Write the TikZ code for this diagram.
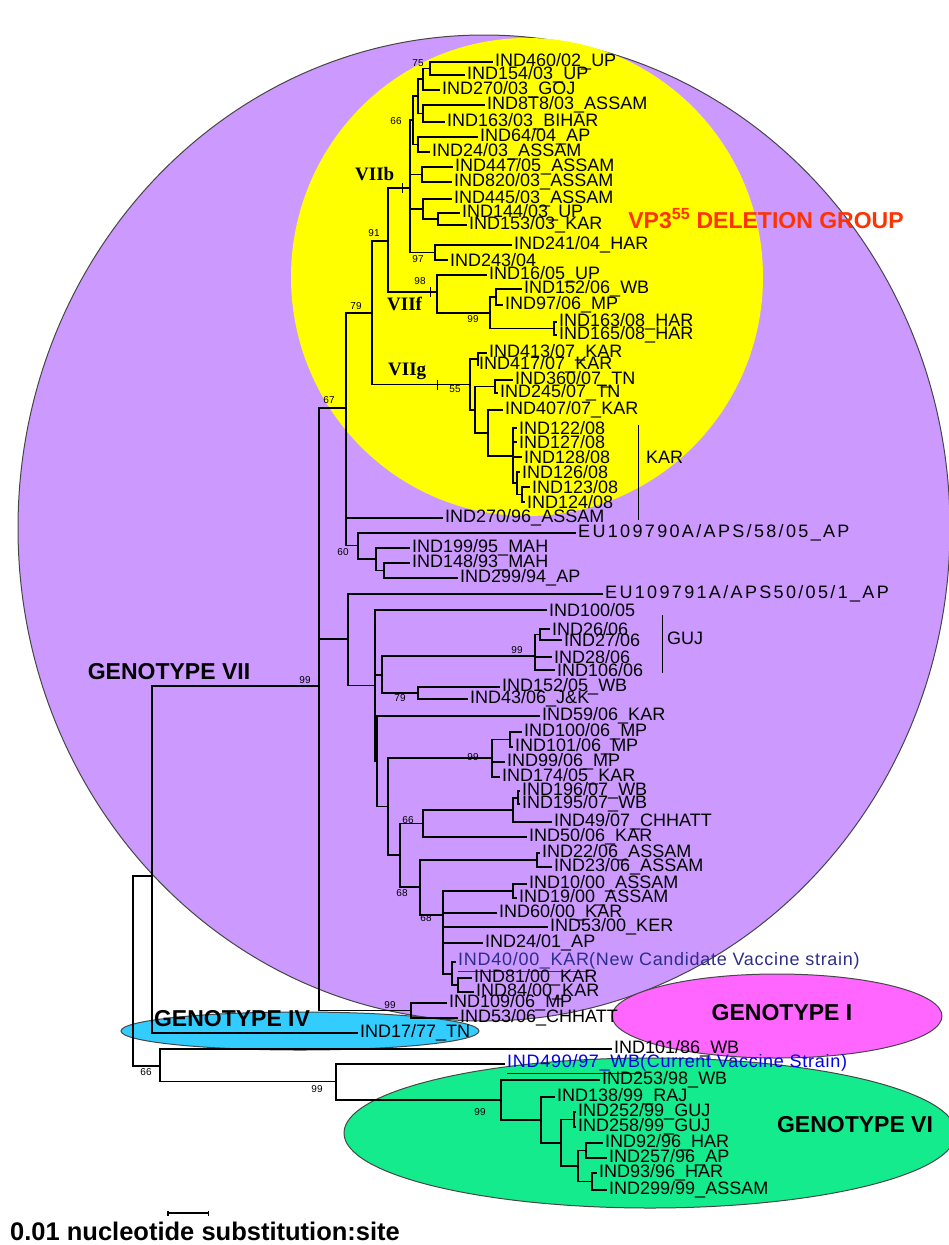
\documentclass[tikz,border=0pt]{standalone}
\usepackage{fontspec}
\setmainfont{Liberation Sans}
\newfontfamily\serifface{Liberation Serif}
\usetikzlibrary{arrows.meta}

\definecolor{genoVII}{RGB}{204,153,255}
\definecolor{delyellow}{RGB}{255,255,0}
\definecolor{genoIV}{RGB}{51,204,255}
\definecolor{genoI}{RGB}{255,102,255}
\definecolor{genoVI}{RGB}{20,235,140}
\definecolor{delred}{RGB}{255,51,0}
\definecolor{newvac}{RGB}{45,45,140}
\definecolor{curvac}{RGB}{0,0,235}
\definecolor{rim}{RGB}{70,70,70}

\newcommand\leaffont{\fontsize{18}{18}\selectfont}
\newcommand\bootfont{\fontsize{10}{10}\selectfont}
\newcommand\genofont{\bfseries\fontsize{23}{23}\selectfont}
\newcommand\cladefont{\serifface\bfseries\fontsize{19}{19}\selectfont}
\newcommand\delfont{\bfseries\fontsize{23}{23}\selectfont}
\newcommand\barfont{\bfseries\fontsize{25.5}{25.5}\selectfont}

\begin{document}
\begin{tikzpicture}[x=1pt, y=-1pt,
  branch/.style={line width=1.5pt},
  leaf/.style={anchor=west, inner sep=2pt, font=\leaffont},
  wideleaf/.style={leaf, font=\leaffont\addfontfeature{LetterSpace=13}},
  vacleaf/.style={leaf, font=\leaffont\addfontfeature{LetterSpace=4}},
  boot/.style={inner sep=0pt, font=\bootfont},
  geno/.style={inner sep=0pt, font=\genofont},
  clade/.style={anchor=base west, inner sep=0pt, font=\cladefont},
  zone/.style={draw=rim, line width=1pt}]
\useasboundingbox (0,0) rectangle (949,1245);

% zones
\filldraw[zone, fill=genoVII] (484,528) ellipse [x radius=466, y radius=493];
\fill[delyellow] (527,277) ellipse [x radius=236, y radius=239];
\filldraw[zone, fill=genoIV] (300,1031) ellipse [x radius=179, y radius=19];
\filldraw[zone, fill=genoI] (777,1016) ellipse [x radius=165, y radius=42];
\filldraw[zone, fill=genoVI] (650,1133) ellipse [x radius=306, y radius=75];

\node[geno] (gVII) at (169,672) {GENOTYPE VII};
\node[geno] (gIV) at (232,1019) {GENOTYPE IV};
\node[geno] (gI) at (782,1013) {GENOTYPE I};
\node[geno] (gVI) at (855,1125) {GENOTYPE VI};
\node[font=\delfont, text=delred] (vp) at (766,219) {VP3\textsuperscript{55} DELETION GROUP};

% VIIb
\node[leaf] (l460) at (493,62) {IND460/02\_UP};
\node[leaf] (l154) at (465,75) {IND154/03\_UP};
\node[leaf] (l270) at (440,90) {IND270/03\_GOJ};
\node[leaf] (l878) at (485,105) {IND8T8/03\_ASSAM};
\node[leaf] (l163) at (445,122) {IND163/03\_BIHAR};
\node[leaf] (l64) at (478,137) {IND64/04\_AP};
\node[leaf] (l24) at (430,152) {IND24/03\_ASSAM};
\node[leaf] (l447) at (453,167) {IND447/05\_ASSAM};
\node[leaf] (l820) at (452,182) {IND820/03\_ASSAM};
\node[leaf] (l445) at (452,199) {IND445/03\_ASSAM};
\node[leaf] (l144) at (460,213) {IND144/03\_UP};
\node[leaf] (l153) at (467,225) {IND153/03\_KAR};
\node[leaf] (l241) at (512,245) {IND241/04\_HAR};
\node[leaf] (l243) at (448,260) {IND243/04};
% VIIf
\node[leaf] (l16) at (487,275) {IND16/05\_UP};
\node[leaf] (l152b) at (522,289) {IND152/06\_WB};
\node[leaf] (l97) at (503,305) {IND97/06\_MP};
\node[leaf] (l163b) at (557,322) {IND163/08\_HAR};
\node[leaf] (l165) at (557,335) {IND165/08\_HAR};
% VIIg
\node[leaf] (l413) at (487,353) {IND413/07\_KAR};
\node[leaf] (l417) at (477,365) {IND417/07\_KAR};
\node[leaf] (l360) at (513,380) {IND360/07\_TN};
\node[leaf] (l245) at (498,393) {IND245/07\_TN};
\node[leaf] (l407) at (503,410) {IND407/07\_KAR};
\node[leaf] (l122) at (517,428) {IND122/08};
\node[leaf] (l127) at (517,442) {IND127/08};
\node[leaf] (l128) at (522,457) {IND128/08};
\node[leaf] (l126) at (520,472) {IND126/08};
\node[leaf] (l123) at (530,487) {IND123/08};
\node[leaf] (l124) at (525,502) {IND124/08};
\coordinate (kart) at (638,425);
\coordinate (karb) at (638,520);
\draw[line width=1pt] (kart) -- (karb);
\node[leaf] (kar) at (644,457) {KAR};

% rest of genotype VII
\node[leaf] (l270b) at (443,518) {IND270/96\_ASSAM};
\node[wideleaf] (leu0) at (576,533) {EU109790A/APS/58/05\_AP};
\node[leaf] (l199) at (410,548) {IND199/95\_MAH};
\node[leaf] (l148) at (410,563) {IND148/93\_MAH};
\node[leaf] (l299) at (458,578) {IND299/94\_AP};
\node[wideleaf] (leu1) at (603,594) {EU109791A/APS50/05/1\_AP};
\node[leaf] (l100a) at (547,610) {IND100/05};
\node[leaf] (l26) at (550,629) {IND26/06};
\node[leaf] (l27) at (562,640) {IND27/06};
\node[leaf] (l28) at (552,657) {IND28/06};
\node[leaf] (l106) at (555,670) {IND106/06};
\coordinate (gujt) at (662,615);
\coordinate (gujb) at (662,673);
\draw[line width=1pt] (gujt) -- (gujb);
\node[leaf] (guj) at (665,638) {GUJ};
\node[leaf] (l152c) at (500,687) {IND152/05\_WB};
\node[leaf] (l43) at (468,699) {IND43/06\_J\&K};
\node[leaf] (l59) at (540,716) {IND59/06\_KAR};
\node[leaf] (l100b) at (522,732) {IND100/06\_MP};
\node[leaf] (l101) at (513,747) {IND101/06\_MP};
\node[leaf] (l99) at (505,762) {IND99/06\_MP};
\node[leaf] (l174) at (500,777) {IND174/05\_KAR};
\node[leaf] (l196) at (520,791) {IND196/07\_WB};
\node[leaf] (l195) at (520,804) {IND195/07\_WB};
\node[leaf] (l49) at (552,822) {IND49/07\_CHHATT};
\node[leaf] (l50) at (527,837) {IND50/06\_KAR};
\node[leaf] (l22) at (540,853) {IND22/06\_ASSAM};
\node[leaf] (l23) at (552,867) {IND23/06\_ASSAM};
\node[leaf] (l10) at (527,884) {IND10/00\_ASSAM};
\node[leaf] (l19) at (517,898) {IND19/00\_ASSAM};
\node[leaf] (l60) at (497,913) {IND60/00\_KAR};
\node[leaf] (l53) at (548,927) {IND53/00\_KER};
\node[leaf] (l24b) at (483,943) {IND24/01\_AP};
\node[vacleaf, text=newvac] (l40) at (456,962) {\underline{IND40/00\_KAR}(New Candidate Vaccine strain)};
\node[leaf] (l81) at (472,978) {IND81/00\_KAR};
\node[leaf] (l84) at (474,992) {IND84/00\_KAR};
\node[leaf] (l109) at (447,1003) {IND109/06\_MP};
\node[leaf] (l53b) at (458,1018) {IND53/06\_CHHATT};

% genotypes IV, I, VI
\node[leaf] (l17) at (358,1033) {IND17/77\_TN};
\node[leaf] (l101b) at (612,1049) {IND101/86\_WB};
\node[vacleaf, text=curvac] (l490) at (505,1064) {\underline{IND490/97\_WB}(Current Vaccine Strain)};
\node[leaf] (l253) at (600,1080) {IND253/98\_WB};
\node[leaf] (l138) at (555,1097) {IND138/99\_RAJ};
\node[leaf] (l252) at (576,1112) {IND252/99\_GUJ};
\node[leaf] (l258) at (576,1127) {IND258/99\_GUJ};
\node[leaf] (l92) at (603,1143) {IND92/96\_HAR};
\node[leaf] (l257) at (607,1158) {IND257/96\_AP};
\node[leaf] (l93) at (597,1173) {IND93/96\_HAR};
\node[leaf] (l299b) at (607,1190) {IND299/99\_ASSAM};

% inner nodes
\coordinate (b75) at (430,68.5);
\coordinate (b270) at (423,79);
\coordinate (b878) at (423,113.5);
\coordinate (b66u) at (418,96);
\coordinate (b64) at (418,144.5);
\coordinate (b66) at (413,120);
\coordinate (b447) at (422,174.5);
\coordinate (b144) at (438,219);
\coordinate (b445) at (423,209);
\coordinate (b97) at (435,252.5);
\coordinate (vIIb) at (410,188);
\coordinate (f152) at (496,297);
\coordinate (f163) at (554,328.5);
\coordinate (f99) at (490,313);
\coordinate (vIIf) at (437,292);
\coordinate (b91) at (388,241);
\coordinate (g413) at (478,359);
\coordinate (g360) at (495,386.5);
\coordinate (k123) at (522,494.5);
\coordinate (k126) at (517,483);
\coordinate (k122) at (513,456);
\coordinate (g407) at (488,433);
\coordinate (g475) at (475,410);
\coordinate (vIIg) at (470,384.5);
\coordinate (b79) at (372,313);
\coordinate (m148) at (384,570.5);
\coordinate (m199) at (376,559);
\coordinate (b60) at (358,545.5);
\coordinate (b67) at (346,408);
\coordinate (j26) at (540,634.5);
\coordinate (b99g) at (535,656);
\coordinate (b79g) at (418,693);
\coordinate (h382) at (382,675);
\coordinate (j100) at (510,739.5);
\coordinate (b99h) at (492,758);
\coordinate (j196) at (518,798);
\coordinate (j49) at (513,810);
\coordinate (b66h) at (423,823.5);
\coordinate (j22) at (537,860);
\coordinate (j10) at (513,891);
\coordinate (j81) at (458,985);
\coordinate (j40) at (452,974);
\coordinate (b68b) at (443,915);
\coordinate (b68a) at (420,887);
\coordinate (h400) at (400,855);
\coordinate (h388) at (388,806.5);
\coordinate (h377) at (377,761);
\coordinate (h375) at (375,685.5);
\coordinate (h348) at (348,639);
\coordinate (b99z) at (411,1010.5);
\coordinate (g7) at (319,686);
\coordinate (n152) at (152,876);
\coordinate (e252) at (574,1119.5);
\coordinate (e92) at (586,1150.5);
\coordinate (e93) at (592,1181.5);
\coordinate (e578) at (578,1166);
\coordinate (e561) at (561,1143);
\coordinate (e541) at (541,1120);
\coordinate (g6b) at (501,1100);
\coordinate (g6) at (336,1081.5);
\coordinate (n160) at (160,1066);
\coordinate (root) at (133,970);

% branches
\draw[branch] (b75) |- (l460.west) (b75) |- (l154.west);
\draw[branch] (b270) |- (b75) (b270) |- (l270.west);
\draw[branch] (b878) |- (l878.west) (b878) |- (l163.west);
\draw[branch] (b66u) |- (b270) (b66u) |- (b878);
\draw[branch] (b64) |- (l64.west) (b64) |- (l24.west);
\draw[branch] (b66) |- (b66u) (b66) |- (b64);
\draw[branch] (b447) |- (l447.west) (b447) |- (l820.west);
\draw[branch] (b144) |- (l144.west) (b144) |- (l153.west);
\draw[branch] (b445) |- (l445.west) (b445) |- (b144);
\draw[branch] (b97) |- (l241.west) (b97) |- (l243.west);
\draw[branch] (vIIb) |- (b66) (vIIb) |- (b447) (vIIb) |- (b445) (vIIb) |- (b97);
\draw[branch] (f152) |- (l152b.west) (f152) |- (l97.west);
\draw[branch] (f163) |- (l163b.west) (f163) |- (l165.west);
\draw[branch] (f99) |- (f152) (f99) |- (f163);
\draw[branch] (vIIf) |- (l16.west) (vIIf) |- (f99);
\draw[branch] (b91) |- (vIIb) (b91) |- (vIIf);
\draw[branch] (g413) |- (l413.west) (g413) |- (l417.west);
\draw[branch] (g360) |- (l360.west) (g360) |- (l245.west);
\draw[branch] (k123) |- (l123.west) (k123) |- (l124.west);
\draw[branch] (k126) |- (l126.west) (k126) |- (k123);
\draw[branch] (k122) |- (l122.west) (k122) |- (l127.west) (k122) |- (l128.west) (k122) |- (k126);
\draw[branch] (g407) |- (l407.west) (g407) |- (k122);
\draw[branch] (g475) |- (g360) (g475) |- (g407);
\draw[branch] (vIIg) |- (g413) (vIIg) |- (g475);
\draw[branch] (b79) |- (b91) (b79) |- (vIIg);
\draw[branch] (m148) |- (l148.west) (m148) |- (l299.west);
\draw[branch] (m199) |- (l199.west) (m199) |- (m148);
\draw[branch] (b60) |- (leu0.west) (b60) |- (m199);
\draw[branch] (b67) |- (b79) (b67) |- (l270b.west) (b67) |- (b60);
\draw[branch] (j26) |- (l26.west) (j26) |- (l27.west);
\draw[branch] (b99g) |- (j26) (b99g) |- (l28.west) (b99g) |- (l106.west);
\draw[branch] (b79g) |- (l152c.west) (b79g) |- (l43.west);
\draw[branch] (h382) |- (b99g) (h382) |- (b79g);
\draw[branch] (j100) |- (l100b.west) (j100) |- (l101.west);
\draw[branch] (b99h) |- (j100) (b99h) |- (l99.west) (b99h) |- (l174.west);
\draw[branch] (j196) |- (l196.west) (j196) |- (l195.west);
\draw[branch] (j49) |- (j196) (j49) |- (l49.west);
\draw[branch] (b66h) |- (j49) (b66h) |- (l50.west);
\draw[branch] (j22) |- (l22.west) (j22) |- (l23.west);
\draw[branch] (j10) |- (l10.west) (j10) |- (l19.west);
\draw[branch] (j81) |- (l81.west) (j81) |- (l84.west);
\draw[branch] (j40) |- (l40.west) (j40) |- (j81);
\draw[branch] (b68b) |- (j10) (b68b) |- (l60.west) (b68b) |- (l53.west) (b68b) |- (l24b.west) (b68b) |- (j40);
\draw[branch] (b68a) |- (j22) (b68a) |- (b68b);
\draw[branch] (h400) |- (b66h) (h400) |- (b68a);
\draw[branch] (h388) |- (b99h) (h388) |- (h400);
\draw[branch] (h377) |- (l59.west) (h377) |- (h388);
\draw[branch] (h375) |- (l100a.west) (h375) |- (h382) (h375) |- (h377);
\draw[branch] (h348) |- (leu1.west) (h348) |- (h375);
\draw[branch] (b99z) |- (l109.west) (b99z) |- (l53b.west);
\draw[branch] (g7) |- (b67) (g7) |- (h348) (g7) |- (b99z);
\draw[branch] (n152) |- (g7) (n152) |- (l17.west);
\draw[branch] (e252) |- (l252.west) (e252) |- (l258.west);
\draw[branch] (e92) |- (l92.west) (e92) |- (l257.west);
\draw[branch] (e93) |- (l93.west) (e93) |- (l299b.west);
\draw[branch] (e578) |- (e92) (e578) |- (e93);
\draw[branch] (e561) |- (e252) (e561) |- (e578);
\draw[branch] (e541) |- (l138.west) (e541) |- (e561);
\draw[branch] (g6b) |- (l253.west) (g6b) |- (e541);
\draw[branch] (g6) |- (l490.west) (g6) |- (g6b);
\draw[branch] (n160) |- (l101b.west) (n160) |- (g6);
\draw[branch] (root) |- (n152) (root) |- (n160);

% clade marks
\coordinate (tb) at (402,188);
\coordinate (tf) at (430,292);
\coordinate (tg) at (437,384.5);
\draw[line width=1pt] ([yshift=5pt]tb) -- ([yshift=-5pt]tb);
\draw[line width=1pt] ([yshift=5pt]tf) -- ([yshift=-5pt]tf);
\draw[line width=1pt] ([yshift=5pt]tg) -- ([yshift=-5pt]tg);
\node[clade] (cb) at (355,180) {VIIb};
\node[clade] (cf) at (387,310) {VIIf};
\node[clade] (cg) at (388,375) {VIIg};

% bootstrap values
\node[boot] (s75) at (418,63) {75};
\node[boot] (s66) at (396,121) {66};
\node[boot] (s91) at (374,233) {91};
\node[boot] (s97) at (418,259) {97};
\node[boot] (s98) at (420,281) {98};
\node[boot] (s99f) at (473,319) {99};
\node[boot] (s79) at (356,306) {79};
\node[boot] (s55) at (455,389) {55};
\node[boot] (s67) at (329,400) {67};
\node[boot] (s60) at (343,552) {60};
\node[boot] (s99g) at (517,650) {99};
\node[boot] (s79g) at (400,698) {79};
\node[boot] (s99h) at (473,757) {99};
\node[boot] (s66h) at (408,820) {66};
\node[boot] (s68a) at (402,893) {68};
\node[boot] (s68b) at (426,918) {68};
\node[boot] (s99z) at (390,1005) {99};
\node[boot] (s99v) at (305,680) {99};
\node[boot] (s66r) at (146,1072) {66};
\node[boot] (s99a) at (317,1089) {99};
\node[boot] (s99b) at (480,1112) {99};

% scale
\coordinate (sb1) at (167,1213);
\coordinate (sb2) at (209,1213);
\draw[line width=1.5pt, {Bar[width=5pt]}-{Bar[width=5pt]}] (sb1) -- (sb2);
\node[anchor=west, inner sep=0pt, font=\barfont] (scale) at (10,1231) {0.01 nucleotide substitution:site};
\end{tikzpicture}
\end{document}
